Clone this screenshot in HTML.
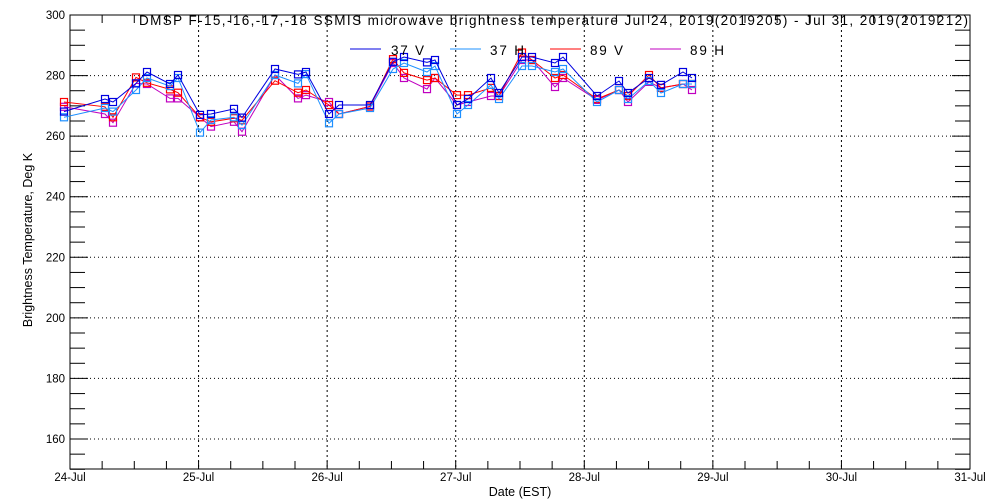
<!DOCTYPE html>
<html><head><meta charset="utf-8"><style>
html,body{margin:0;padding:0;background:#fff;}
svg{display:block;font-family:"Liberation Sans",sans-serif;}
</style></head><body>
<svg id="s" width="1000" height="500" xmlns="http://www.w3.org/2000/svg">
<rect width="1000" height="500" fill="#fff"/>
<g id="grid"></g>
<g id="axes"></g>
<g id="data"></g>
<text x="139" y="25" font-size="13.5" textLength="829" lengthAdjust="spacing" fill="#000">DMSP F-15,-16,-17,-18 SSMIS microwave brightness temperature Jul 24, 2019(2019205) - Jul 31, 2019(2019212)</text>
<line x1="350" y1="49" x2="381" y2="49" stroke="#0000e0"/>
<text x="391" y="55" font-size="13.5" textLength="33" lengthAdjust="spacing">37 V</text>
<line x1="450" y1="49" x2="481" y2="49" stroke="#1e90ff"/>
<text x="490" y="55" font-size="13.5" textLength="34" lengthAdjust="spacing">37 H</text>
<line x1="550" y1="49" x2="581" y2="49" stroke="#ff0000"/>
<text x="590" y="55" font-size="13.5" textLength="33" lengthAdjust="spacing">89 V</text>
<line x1="650" y1="49" x2="681" y2="49" stroke="#c000c0"/>
<text x="690" y="55" font-size="13.5" textLength="34" lengthAdjust="spacing">89 H</text>
<text x="520" y="496" font-size="12.5" text-anchor="middle">Date (EST)</text>
<text transform="translate(32,240) rotate(-90)" font-size="12.5" text-anchor="middle">Brightness Temperature, Deg K</text>
</svg>
<script>
var NS="http://www.w3.org/2000/svg";
function el(p,t,a,txt){var e=document.createElementNS(NS,t);for(var k in a)e.setAttribute(k,a[k]);if(txt!=null)e.textContent=txt;document.getElementById(p).appendChild(e);return e;}
var L=70,R=970,T=15,B=469;
function Y(v){return T+(300-v)*3.0286;}
var dw=(R-L)/7;
for(var v=160;v<300;v+=20){el("grid","line",{x1:L,x2:R,y1:Y(v),y2:Y(v),stroke:"#000","stroke-dasharray":"1,3"});}
for(var d=1;d<7;d++){var x=L+d*dw;el("grid","line",{x1:x,x2:x,y1:T,y2:B,stroke:"#000","stroke-dasharray":"2,3"});}
el("axes","rect",{x:L,y:T,width:R-L,height:B-T,fill:"none",stroke:"#000"});
for(var v=150;v<=300;v+=5){var y=Y(v);var len=(v%20==0)?18:15;
 el("axes","line",{x1:L,x2:L+len,y1:y,y2:y,stroke:"#000"});
 el("axes","line",{x1:R,x2:R-len,y1:y,y2:y,stroke:"#000"});
 if(v%20==0&&v>=160)el("axes","text",{x:L-5,y:y+4,"font-size":"11.5","text-anchor":"end"},String(v));}
var labs=["24-Jul","25-Jul","26-Jul","27-Jul","28-Jul","29-Jul","30-Jul","31-Jul"];
for(var i=0;i<=28;i++){var x=L+i*dw/4;
 el("axes","line",{x1:x,x2:x,y1:B,y2:B-8,stroke:"#000"});
 el("axes","line",{x1:x,x2:x,y1:T,y2:T+8,stroke:"#000"});}
for(var d=0;d<=7;d++){el("axes","text",{x:L+d*dw,y:B+12,"font-size":"11.5","text-anchor":"middle"},labs[d]);}
var X=[64,105,113,136,147,170,178,200,211,234,242,275,298,306,329,339,370,393,404,427,435,457,468,491,499,522,532,555,563,597,619,628,649,661,683,692];
var S=[
["#c000c0",[269.4,267,264.1,277.2,277,272.2,272.2,265.9,262.8,264.4,261.1,280,272.2,273.3,271,267,269.5,284,279,275.3,279,270,271,273,273,285,285,276,279,271.7,275,271,277.7,275.7,277,275]],
["#ff0000",[271,269.4,265.9,279.2,277.4,275.2,274.1,265.9,264.4,265.6,264.9,278.1,274.1,275,270,267,269.5,285.3,280.7,278.3,279,273.3,273.3,275.7,273,287.5,285,279,280,272,275,273,280,275.7,277,277]],
["#1e90ff",[265.9,269,267.8,275,279,276.3,279,260.8,265,265.9,263.3,280,277.2,280.3,263.9,267,269,282,284,281,283,267,270,276.7,272,283,283,281,282,271,275,272,278,274,277,277]],
["#0000e0",[267.8,272,271,277.2,281,277,280,266.7,267,268.7,265.8,282,280.2,281,267,270,270,284.4,286,284.2,285,270,272,279,274,286,286,284,286,273,278,274,279,276.7,281,279]]
];
S.forEach(function(s){var pts=[];for(var i=0;i<X.length;i++){pts.push(X[i]+","+(15+(300-s[1][i])*3).toFixed(1));}
 el("data","polyline",{points:pts.join(" "),fill:"none",stroke:s[0],"stroke-width":"1"});
 for(var i=0;i<X.length;i++){var y=15+(300-s[1][i])*3;el("data","rect",{x:X[i]-3.5,y:y-3.5,width:7,height:7,fill:"none",stroke:s[0],"stroke-width":"1.2"});}
});
</script>
</body></html>
